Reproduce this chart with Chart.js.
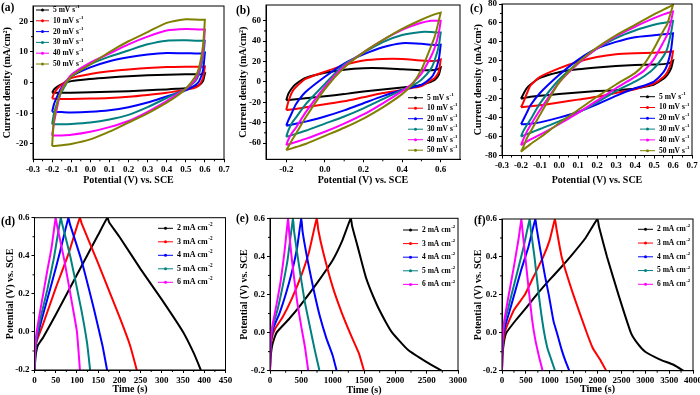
<!DOCTYPE html>
<html>
<head>
<meta charset="utf-8">
<script src="https://cdn.jsdelivr.net/npm/chart.js@4.4.1/dist/chart.umd.min.js"></script>
<style>
  html, body { margin: 0; padding: 0; background: #fff; }
  #wrap { position: relative; width: 700px; height: 395px; overflow: hidden; background: #fff; }
  #wrap canvas { position: absolute; }
  .tag { position: absolute; font: bold 11.5px "Liberation Serif", "Times New Roman", serif; line-height: 1; color: #000; }
</style>
</head>
<body>
<div id="wrap">
  <canvas id="ca"></canvas>
  <canvas id="cb"></canvas>
  <canvas id="cc"></canvas>
  <canvas id="cd"></canvas>
  <canvas id="ce"></canvas>
  <canvas id="cf"></canvas>
  <div class="tag" style="left:1px;top:2px">(a)</div>
  <div class="tag" style="left:236px;top:5px">(b)</div>
  <div class="tag" style="left:470px;top:3px">(c)</div>
  <div class="tag" style="left:1px;top:216px">(d)</div>
  <div class="tag" style="left:236px;top:213px">(e)</div>
  <div class="tag" style="left:474px;top:215px">(f)</div>
</div>
<script>
const SERIF = '"Liberation Serif", "Times New Roman", serif';

// ---- CV data: potential grid for forward (up) and reverse (down) scans ----
const cvUpV = [-0.2, -0.19, -0.17, -0.15, -0.1, 0, 0.1, 0.2, 0.3, 0.4, 0.5, 0.55, 0.58, 0.6];
const cvDownV = [0.6, 0.59, 0.57, 0.55, 0.5, 0.45, 0.4, 0.3, 0.2, 0.1, 0, -0.1, -0.15, -0.2];
const cvLabels = ['5 mV s^-1', '10 mV s^-1', '20 mV s^-1', '30 mV s^-1', '40 mV s^-1', '50 mV s^-1'];
const cvColors = ['#000000', '#ff0000', '#0000ff', '#008080', '#ff00ff', '#808000'];

// panel (a) current density, mA/cm2
const aUp = [
  [-3.3, -2.2, -1.2, -0.5, 0.5, 1.2, 1.7, 2.1, 2.4, 2.6, 2.7, 2.7, 2.7, 3.0],
  [-5.2, -3.5, -1.8, -0.6, 1.5, 2.8, 3.7, 4.3, 4.8, 5.1, 5.2, 5.2, 5.2, 5.3],
  [-9.5, -7, -4, -1.5, 2, 5, 7, 8.3, 9.2, 9.7, 9.6, 9.5, 9.5, 9.8],
  [-13.6, -10, -6, -3, 2, 6, 8.5, 10.5, 12.5, 13.7, 13.8, 13.7, 13.7, 13.7],
  [-17.3, -13, -7, -2, 2.5, 6.5, 9.5, 12.5, 15, 17, 17.5, 17.4, 17.3, 17.3],
  [-20.7, -12, -6, -2.5, 2, 6, 10, 13.5, 16.5, 19.5, 20.7, 20.6, 20.5, 20.5]
];
const aDown = [
  [3.0, 0.5, -0.8, -1.3, -1.8, -2.0, -2.2, -2.5, -2.8, -3.0, -3.1, -3.3, -3.3, -3.3],
  [5.3, 1.5, -0.8, -1.6, -2.3, -2.8, -3.3, -4.0, -4.6, -5.0, -5.2, -5.3, -5.3, -5.2],
  [9.8, 4, 0.5, -0.8, -2.5, -3.5, -4.5, -6.5, -8, -9, -9.5, -9.7, -9.6, -9.5],
  [13.7, 8, 3, 0.5, -2, -3.5, -5, -8, -10.5, -12, -13, -13.5, -13.6, -13.6],
  [17.3, 10, 4, 1, -2, -4, -6, -9.5, -12.5, -14.5, -16, -17, -17.2, -17.3],
  [20.5, 12, 5, 2, -2, -4.5, -6.5, -10, -13, -16, -18.5, -20, -20.4, -20.7]
];
// panel (b)
const bUp = [
  [-18, -12, -6, -2, 4, 9, 12, 13.5, 13.5, 12.5, 11.5, 11.5, 12.2, 14],
  [-27.5, -20, -10, -5, 3, 10, 16.5, 21, 22.5, 22.5, 21, 20.5, 20.8, 22],
  [-43, -38, -30, -22, -10, 5, 18, 27, 34, 38, 37.5, 36.5, 36, 36.5],
  [-54, -48, -40, -35, -22, -2, 17, 28.5, 39, 46, 49, 49, 48.5, 48.5],
  [-62, -57, -50, -45, -30, -5, 15.5, 29, 41, 51, 58, 60, 60, 60],
  [-67, -64, -57, -51, -35, -7, 14, 29, 41, 52, 61, 65, 67, 68]
];
const bDown = [
  [14, 7, 2, 0, -3, -4.5, -5.5, -7.5, -9.5, -12, -14, -16, -17, -18],
  [22, 10, 4, 1.5, -4, -6, -8, -11, -15, -19, -22, -25, -26.5, -27.5],
  [36.5, 22, 10, 4, -3, -5.5, -8, -14, -21, -28, -34, -39, -41, -43],
  [48.5, 35, 22, 13, 2, -4, -8, -17, -26, -34, -41, -48, -51, -54],
  [60, 48, 34, 25, 8, -2, -9, -21, -32, -41, -49, -56, -59, -62],
  [68, 60, 45, 35, 12, -3, -12, -25, -36, -45, -53, -61, -64, -67]
];
// panel (c)
const cUp = [
  [-20, -16, -9, -5, 2, 8, 11, 13, 14.5, 15.5, 16, 16.5, 17.5, 20],
  [-29, -25, -15, -6, 3, 12, 19, 24, 27, 28, 28.5, 29, 29.5, 30],
  [-47, -43, -35, -27, -14, 5, 21, 33, 40, 45, 47, 48, 48.5, 49],
  [-60, -55, -48, -42, -25, 0, 18, 33, 44, 52, 58, 60, 61, 62],
  [-69, -64, -55, -48, -32, -3, 17, 33, 46, 56, 65, 69, 71, 72],
  [-76, -72, -62, -55, -37, -3, 18, 34, 47, 58, 69, 74, 77, 79]
];
const cDown = [
  [20, 12, 5, 1, -5, -7.5, -9.5, -11, -12, -13.5, -15, -17, -18, -20],
  [30, 18, 8, 3, -4, -7, -10, -14, -18, -21, -24, -27, -28, -29],
  [49, 32, 16, 8, -2, -6, -9, -17, -26, -34, -40, -45, -46.5, -47],
  [62, 50, 33, 25, 12, 4, -2, -12, -24, -35, -44, -52, -56, -60],
  [72, 62, 48, 40, 22, 10, 3, -9, -22, -35, -47, -58, -63, -69],
  [79, 72, 59, 52, 33, 17, 7, -5, -18, -32, -46, -61, -68, -76]
];

// ---- GCD data: [time s, potential V] ----
const gcdLabels = ['2 mA cm^-2', '3 mA cm^-2', '4 mA cm^-2', '5 mA cm^-2', '6 mA cm^-2'];
const dCurves = [
  [[0,-0.2],[3,-0.12],[8,-0.07],[20,-0.03],[50,0.09],[100,0.3],[150,0.51],[172,0.6],[176,0.575],[200,0.5],[250,0.33],[300,0.17],[350,0.0],[375,-0.11],[392,-0.2]],
  [[0,-0.2],[2,-0.1],[5,-0.05],[20,0.04],[50,0.23],[80,0.41],[107,0.6],[111,0.57],[150,0.36],[200,0.08],[225,-0.07],[241,-0.2]],
  [[0,-0.2],[2,-0.1],[5,-0.04],[20,0.09],[40,0.25],[60,0.42],[80,0.6],[83,0.57],[110,0.38],[140,0.12],[160,-0.07],[171,-0.2]],
  [[0,-0.2],[2,-0.09],[5,-0.03],[15,0.08],[30,0.22],[45,0.38],[62,0.6],[65,0.57],[85,0.39],[110,0.12],[124,-0.06],[131,-0.2]],
  [[0,-0.2],[1.5,-0.08],[5,0.0],[15,0.13],[30,0.32],[40,0.44],[50,0.6],[53,0.56],[70,0.38],[90,0.13],[100,0.0],[107,-0.2]]
];
const eCurves = [
  [[0,-0.2],[10,-0.13],[40,-0.06],[105,0],[300,0.07],[500,0.15],[750,0.26],[1000,0.38],[1150,0.48],[1290,0.6],[1310,0.56],[1400,0.45],[1530,0.29],[1700,0.15],[1840,0.06],[1950,0.0],[2200,-0.09],[2500,-0.155],[2737,-0.2]],
  [[0,-0.2],[8,-0.1],[30,-0.03],[80,0.02],[200,0.08],[350,0.18],[500,0.3],[620,0.42],[747,0.6],[770,0.54],[850,0.42],[1000,0.24],[1150,0.1],[1300,-0.02],[1420,-0.11],[1500,-0.2]],
  [[0,-0.2],[5,-0.1],[20,-0.03],[60,0.03],[150,0.1],[250,0.2],[350,0.32],[430,0.44],[500,0.6],[520,0.53],[600,0.38],[700,0.22],[800,0.08],[900,-0.03],[1000,-0.12],[1063,-0.2]],
  [[0,-0.2],[4,-0.1],[15,-0.03],[50,0.04],[120,0.12],[200,0.24],[280,0.38],[368,0.6],[385,0.53],[450,0.38],[550,0.17],[650,0.01],[720,-0.1],[790,-0.2]],
  [[0,-0.2],[3,-0.1],[12,-0.03],[40,0.04],[100,0.14],[170,0.27],[230,0.42],[290,0.6],[305,0.53],[350,0.38],[430,0.17],[500,0.03],[560,-0.08],[610,-0.2]]
];
const fCurves = [
  [[0,-0.2],[10,-0.12],[40,-0.05],[91,0],[300,0.07],[500,0.13],[723,0.2],[1000,0.28],[1200,0.335],[1460,0.41],[1750,0.5],[2000,0.6],[2030,0.56],[2200,0.4],[2440,0.2],[2700,0.0],[2850,-0.06],[3000,-0.1],[3300,-0.14],[3600,-0.17],[3800,-0.2]],
  [[0,-0.2],[8,-0.1],[30,-0.04],[80,0.02],[250,0.12],[477,0.2],[650,0.29],[863,0.4],[1000,0.49],[1110,0.6],[1140,0.55],[1250,0.4],[1495,0.2],[1775,0.0],[1900,-0.08],[2050,-0.14],[2182,-0.2]],
  [[0,-0.2],[5,-0.1],[20,-0.03],[60,0.03],[200,0.15],[400,0.33],[550,0.45],[700,0.6],[720,0.56],[800,0.44],[900,0.3],[980,0.2],[1080,0.06],[1150,0.0],[1250,-0.09],[1330,-0.15],[1410,-0.2]],
  [[0,-0.2],[5,-0.1],[20,-0.02],[50,0.05],[150,0.15],[300,0.3],[450,0.45],[582,0.6],[600,0.55],[680,0.4],[770,0.2],[870,0.02],[950,-0.08],[1030,-0.14],[1110,-0.2]],
  [[0,-0.2],[3,-0.1],[15,-0.02],[40,0.05],[120,0.17],[250,0.35],[350,0.5],[408,0.6],[425,0.55],[480,0.42],[550,0.25],[630,0.07],[700,-0.04],[780,-0.13],[850,-0.2]]
];

// ---- tick values ----
const cvTicksX = [-0.3, -0.2, -0.1, 0, 0.1, 0.2, 0.3, 0.4, 0.5, 0.6, 0.7];
const cvTicksXb = [-0.2, 0, 0.2, 0.4, 0.6];
const aTicksY = [-20, -10, 0, 10, 20];
const bTicksY = [-60, -40, -20, 0, 20, 40, 60];
const cTicksY = [-80, -60, -40, -20, 0, 20, 40, 60, 80];
const gcdTicksY = [-0.2, 0, 0.2, 0.4, 0.6];
const dTicksX = [0, 50, 100, 150, 200, 250, 300, 350, 400, 450];
const eTicksX = [0, 500, 1000, 1500, 2000, 2500, 3000];
const fTicksX = [0, 500, 1000, 1500, 2000, 2500, 3000, 3500, 4000];

function cvSets(up, down) {
  return up.map((u, i) => ({
    label: cvLabels[i],
    data: cvUpV.map((v, k) => ({ x: v, y: u[k] })).concat(cvDownV.map((v, k) => ({ x: v, y: down[i][k] }))),
    borderColor: cvColors[i],
    borderWidth: 2,
    pointRadius: 0,
    showLine: true,
    tension: 0.2,
    order: up.length - i
  }));
}
function gcdSets(curves) {
  return curves.map((c, i) => ({
    label: gcdLabels[i],
    data: c.map(p => ({ x: p[0], y: p[1] })),
    borderColor: cvColors[i],
    borderWidth: 2,
    pointRadius: 0,
    showLine: true,
    tension: 0.15,
    order: curves.length - i
  }));
}

// legend drawn inside the plot area, line + dot + text with superscript
const insideLegend = {
  id: 'insideLegend',
  afterDatasetsDraw(chart, args, o) {
    const ctx = chart.ctx;
    ctx.save();
    chart.data.datasets.forEach((ds, i) => {
      const x = o.x - o.ox, y = o.y - o.oy + i * o.gap;
      ctx.strokeStyle = ds.borderColor;
      ctx.lineWidth = 1;
      ctx.beginPath(); ctx.moveTo(x, y); ctx.lineTo(x + o.len, y); ctx.stroke();
      ctx.fillStyle = ds.borderColor;
      ctx.beginPath(); ctx.arc(x + o.len / 2, y, 1.5, 0, 2 * Math.PI); ctx.fill();
      const parts = ds.label.split('^');
      ctx.fillStyle = '#000';
      ctx.textBaseline = 'middle';
      ctx.font = 'bold ' + o.size + 'px ' + SERIF;
      const tx = x + o.len + o.pad;
      ctx.fillText(parts[0], tx, y);
      if (parts[1]) {
        const w = ctx.measureText(parts[0]).width;
        ctx.font = 'bold ' + (o.size * 0.65) + 'px ' + SERIF;
        ctx.fillText(parts[1], tx + w + 0.5, y - o.size * 0.42);
      }
    });
    ctx.restore();
  }
};

// box round the plot plus minor ticks
const frame = {
  id: 'frame',
  afterDraw(chart) {
    const ctx = chart.ctx, a = chart.chartArea;
    ctx.save();
    ctx.strokeStyle = '#000';
    ctx.lineWidth = 1;
    ctx.strokeRect(a.left, a.top, a.right - a.left, a.bottom - a.top);
    const xs = chart.scales.x, ys = chart.scales.y;
    ctx.beginPath();
    for (let i = 0; i < xs.ticks.length - 1; i++) {
      const px = xs.getPixelForValue((xs.ticks[i].value + xs.ticks[i + 1].value) / 2);
      ctx.moveTo(px, a.bottom); ctx.lineTo(px, a.bottom + 2);
    }
    for (let i = 0; i < ys.ticks.length - 1; i++) {
      const py = ys.getPixelForValue((ys.ticks[i].value + ys.ticks[i + 1].value) / 2);
      ctx.moveTo(a.left, py); ctx.lineTo(a.left - 2, py);
    }
    ctx.stroke();
    ctx.restore();
  }
};

function axis(min, max, ticks, fmt, title, titlePad, fit) {
  return {
    type: 'linear',
    min: min, max: max,
    afterBuildTicks: s => { s.ticks = ticks.map(v => ({ value: v })); },
    afterFit: fit,
    ticks: {
      autoSkip: false, maxRotation: 0, padding: 2, color: '#000',
      font: { family: SERIF, size: 9, weight: 'bold' },
      callback: v => fmt(v)
    },
    grid: { drawOnChartArea: false, drawTicks: true, tickLength: 3, color: '#000', lineWidth: 1 },
    border: { display: true, color: '#000', width: 1 },
    title: {
      display: true, text: title, color: '#000',
      font: { family: SERIF, size: 10, weight: 'bold' },
      padding: titlePad
    }
  };
}

function panel(id, box, area, xs, ys, sets, leg) {
  const cv = document.getElementById(id);
  cv.width = box.w; cv.height = box.h;
  cv.style.left = box.x + 'px'; cv.style.top = box.y + 'px';
  const yw = area.l - box.x, xh = box.y + box.h - area.b;
  leg.ox = box.x; leg.oy = box.y;
  new Chart(cv, {
    type: 'scatter',
    data: { datasets: sets },
    options: {
      responsive: false, animation: false, devicePixelRatio: 1,
      layout: { padding: { left: 0, top: area.t - box.y, right: box.x + box.w - area.r, bottom: 0 } },
      plugins: { legend: { display: false }, tooltip: { enabled: false }, insideLegend: leg },
      scales: {
        x: axis(xs.min, xs.max, xs.ticks, xs.fmt, xs.title,
          { top: 0, bottom: box.y + box.h - area.ty - 6 }, s => { s.height = xh; }),
        y: axis(ys.min, ys.max, ys.ticks, ys.fmt, ys.title,
          { top: area.tx - box.x - 6, bottom: 0 }, s => { s.width = yw; })
      }
    },
    plugins: [insideLegend, frame]
  });
}

const f1 = v => v.toFixed(1);
const f0 = v => String(v);
const cdTitle = 'Current density (mA/cm²)';
const potTitle = 'Potential (V) vs. SCE';

panel('ca', { x: -5, y: -10, w: 240, h: 205 }, { l: 33, t: 6, r: 224, b: 159.3, tx: 7.3, ty: 180.7 },
  { min: -0.3, max: 0.7, ticks: cvTicksX, fmt: f1, title: potTitle },
  { min: -25, max: 25, ticks: aTicksY, fmt: f0, title: cdTitle },
  cvSets(aUp, aDown), { x: 36, y: 10, gap: 10.8, len: 13, pad: 4, size: 7.5 });

panel('cb', { x: 232, y: -10, w: 237, h: 205 }, { l: 266, t: 5, r: 460, b: 159.3, tx: 243.3, ty: 180 },
  { min: -0.305, max: 0.7, ticks: cvTicksXb, fmt: f1, title: potTitle },
  { min: -76, max: 75.5, ticks: bTicksY, fmt: f0, title: cdTitle },
  cvSets(bUp, bDown), { x: 408, y: 97.7, gap: 10.5, len: 15, pad: 4, size: 7.5 });

panel('cc', { x: 466, y: -10, w: 240, h: 200 }, { l: 502, t: 4, r: 692, b: 155.5, tx: 478.3, ty: 180 },
  { min: -0.3, max: 0.7, ticks: cvTicksX, fmt: f1, title: potTitle },
  { min: -80, max: 80, ticks: cTicksY, fmt: f0, title: cdTitle },
  cvSets(cUp, cDown), { x: 640, y: 96.7, gap: 10.8, len: 15, pad: 4, size: 7.5 });

panel('cd', { x: -5, y: 196, w: 240, h: 205 }, { l: 34.5, t: 217.7, r: 225.5, b: 370, tx: 10, ty: 389 },
  { min: 0, max: 450, ticks: dTicksX, fmt: f0, title: 'Time (s)' },
  { min: -0.2, max: 0.6, ticks: gcdTicksY, fmt: f1, title: potTitle },
  gcdSets(dCurves), { x: 158, y: 228.3, gap: 13.5, len: 15, pad: 4, size: 8 });

panel('ce', { x: 232, y: 196, w: 237, h: 205 }, { l: 270, t: 218.3, r: 460, b: 370.7, tx: 244, ty: 390 },
  { min: 0, max: 3000, ticks: eTicksX, fmt: f0, title: 'Time (s)' },
  { min: -0.2, max: 0.6, ticks: gcdTicksY, fmt: f1, title: potTitle },
  gcdSets(eCurves), { x: 403, y: 230, gap: 13.6, len: 15, pad: 4, size: 7.5 });

panel('cf', { x: 466, y: 196, w: 245, h: 205 }, { l: 502, t: 219, r: 693, b: 370.7, tx: 478.3, ty: 389 },
  { min: 0, max: 4000, ticks: fTicksX, fmt: f0, title: 'Time (s)' },
  { min: -0.2, max: 0.6, ticks: gcdTicksY, fmt: f1, title: potTitle },
  gcdSets(fCurves), { x: 638, y: 229.3, gap: 13.75, len: 15, pad: 4, size: 7.5 });
</script>
</body>
</html>
